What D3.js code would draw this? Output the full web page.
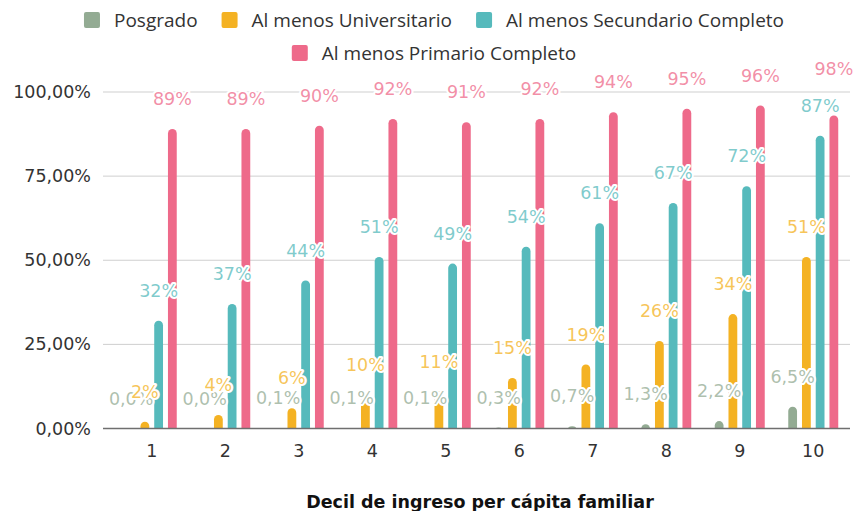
<!DOCTYPE html>
<html>
<head>
<meta charset="utf-8">
<script src="https://cdn.jsdelivr.net/npm/d3@7"></script>
<style>
  body { margin: 0; background: #fff; }
  svg { display: block; }
</style>
</head>
<body>
<svg id="chart" width="854" height="511"></svg>
<script>
// Deciles
const deciles = ['1', '2', '3', '4', '5', '6', '7', '8', '9', '10'];

// Values in percent
const posgrado = [0.0, 0.0, 0.1, 0.1, 0.1, 0.3, 0.7, 1.3, 2.2, 6.5];
const universitario = [2, 4, 6, 10, 11, 15, 19, 26, 34, 51];
const secundario = [32, 37, 44, 51, 49, 54, 61, 67, 72, 87];
const primario = [89, 89, 90, 92, 91, 92, 94, 95, 96, 98];
// bar heights as drawn (the last pink bar is shorter than its label)
const primarioBarra = [89, 89, 90, 92, 91, 92, 94, 95, 96, 93];

const yTicks = [0, 25, 50, 75, 100];

const seriesNames = ['Posgrado', 'Al menos Universitario', 'Al menos Secundario Completo', 'Al menos Primario Completo'];
const seriesColors = ['#93ab93', '#f4b223', '#56babc', '#ee6a8a'];

const series = [
    { name: seriesNames[0], color: seriesColors[0], bars: posgrado, labels: posgrado, fmt: v => d3.format('.1f')(v).replace('.', ',') + '%' },
    { name: seriesNames[1], color: seriesColors[1], bars: universitario, labels: universitario, fmt: v => v + '%' },
    { name: seriesNames[2], color: seriesColors[2], bars: secundario, labels: secundario, fmt: v => v + '%' },
    { name: seriesNames[3], color: seriesColors[3], bars: primarioBarra, labels: primario, fmt: v => v + '%' }
];

const svg = d3.select('#chart');
const numFont = '"DejaVu Sans", Verdana, sans-serif';

// Scales
const x = d3.scaleBand().domain(deciles).range([115, 850]);
const x1 = d3.scaleBand().domain(d3.range(4)).range([-25, 25]).paddingInner(0.36);
const y = d3.scaleLinear().domain([0, 100]).range([428.5, 92]);

// Gridlines
svg.append('g')
    .selectAll('line')
    .data(yTicks.filter(t => t > 0))
    .enter()
    .append('line')
    .attr('x1', 103).attr('x2', 850)
    .attr('y1', d => y(d)).attr('y2', d => y(d))
    .attr('stroke', '#cfcfcf')
    .attr('stroke-width', 1);

// Y axis labels
const yAxis = d3.axisLeft(y).tickValues(yTicks).tickSize(0).tickPadding(0)
    .tickFormat(d => d3.format('.2f')(d).replace('.', ',') + '%');
const yg = svg.append('g').attr('transform', 'translate(91,0)').call(yAxis);
yg.select('.domain').remove();
yg.selectAll('text')
    .attr('font-family', numFont)
    .attr('font-size', '17.5px')
    .attr('fill', '#333');

// Bars (rounded ends, bottom cap hidden under the baseline strip)
const bw = x1.bandwidth();
series.forEach((s, i) => {
    svg.append('g')
        .selectAll('rect')
        .data(deciles)
        .enter()
        .append('rect')
        .attr('x', (d, j) => x(d) + x.bandwidth() / 2 + x1(i))
        .attr('width', bw)
        .attr('y', (d, j) => y(s.bars[j]))
        .attr('height', (d, j) => Math.max(0, y(0) - y(s.bars[j])) + bw / 2)
        .attr('rx', bw / 2)
        .attr('fill', s.color);
});

// white strip under the baseline
svg.append('rect')
    .attr('x', 103).attr('width', 750)
    .attr('y', y(0)).attr('height', 12)
    .attr('fill', '#fff');

// Zero line
svg.append('line')
    .attr('x1', 103).attr('x2', 850)
    .attr('y1', y(0)).attr('y2', y(0))
    .attr('stroke', '#6f6f6f')
    .attr('stroke-width', 1.5);

// X axis labels
const xAxis = d3.axisBottom(x).tickSize(0).tickPadding(0);
const xg = svg.append('g').attr('transform', 'translate(0,451)').call(xAxis);
xg.select('.domain').remove();
xg.selectAll('text')
    .attr('dy', '0.35em')
    .attr('font-family', numFont)
    .attr('font-size', '17.5px')
    .attr('fill', '#333');

// Data labels
series.forEach((s, i) => {
    svg.append('g')
        .selectAll('text')
        .data(deciles)
        .enter()
        .append('text')
        .attr('x', (d, j) => x(d) + x.bandwidth() / 2 + x1(i) + bw / 2)
        .attr('y', (d, j) => y(s.labels[j]) - 30)
        .attr('dy', '0.35em')
        .attr('text-anchor', 'middle')
        .attr('font-family', numFont)
        .attr('font-size', '17.5px')
        .attr('fill', s.color)
        .attr('fill-opacity', 0.75)
        .attr('stroke', '#fff')
        .attr('stroke-width', 4)
        .attr('stroke-linejoin', 'round')
        .attr('paint-order', 'stroke')
        .text((d, j) => s.fmt(s.labels[j]));
});

// Axis title
svg.append('text')
    .attr('x', 480)
    .attr('y', 502)
    .attr('dy', '0.35em')
    .attr('text-anchor', 'middle')
    .attr('font-family', numFont)
    .attr('font-weight', 'bold')
    .attr('font-size', '17.5px')
    .attr('fill', '#111')
    .text('Decil de ingreso per cápita familiar');

// Legend (two centered rows)
const legendRows = [[0, 1, 2], [3]];
const legendY = [20, 53];
const legendCenter = 434;
legendRows.forEach((row, r) => {
    const g = svg.append('g');
    let cx = 0;
    row.forEach(i => {
        const item = g.append('g').attr('transform', `translate(${cx},0)`);
        item.append('rect')
            .attr('x', 0).attr('y', legendY[r] - 8)
            .attr('width', 16).attr('height', 16)
            .attr('rx', 2)
            .attr('fill', seriesColors[i]);
        const t = item.append('text')
            .attr('x', 30).attr('y', legendY[r])
            .attr('dy', '0.35em')
            .attr('font-family', '"Open Sans", "Noto Sans", sans-serif')
            .attr('font-size', '19px')
            .attr('fill', '#333')
            .text(seriesNames[i]);
        cx += 30 + t.node().getComputedTextLength() + 24;
    });
    const total = cx - 24;
    g.attr('transform', `translate(${legendCenter - total / 2},0)`);
});
</script>
</body>
</html>
